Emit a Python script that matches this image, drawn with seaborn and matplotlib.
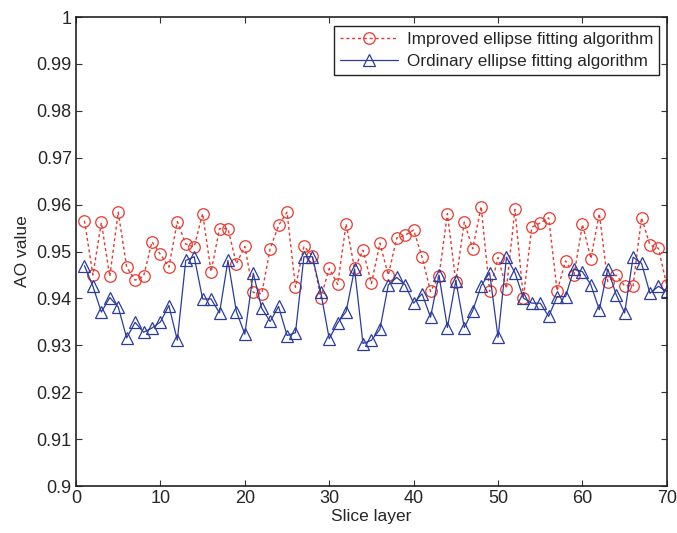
import numpy as np
import pandas as pd
import matplotlib
matplotlib.use("Agg")
import matplotlib.pyplot as plt
import seaborn as sns

slices = list(range(1, 71))
improved = [
    0.9566, 0.9450, 0.9562, 0.9447, 0.9584, 0.9467, 0.9439, 0.9447, 0.9521, 0.9494,
    0.9467, 0.9564, 0.9516, 0.9510, 0.9581, 0.9457, 0.9549, 0.9549, 0.9474, 0.9511,
    0.9413, 0.9410, 0.9506, 0.9556, 0.9584, 0.9424, 0.9511, 0.9491, 0.9401, 0.9464,
    0.9430, 0.9559, 0.9464, 0.9503, 0.9432, 0.9518, 0.9450, 0.9529, 0.9535, 0.9546,
    0.9488, 0.9415, 0.9447, 0.9581, 0.9435, 0.9563, 0.9506, 0.9596, 0.9415, 0.9487,
    0.9421, 0.9590, 0.9401, 0.9552, 0.9561, 0.9572, 0.9416, 0.9480, 0.9450, 0.9558,
    0.9485, 0.9581, 0.9436, 0.9450, 0.9427, 0.9427, 0.9572, 0.9514, 0.9507, 0.9428,
]
ordinary = [
    0.9470, 0.9426, 0.9371, 0.9402, 0.9382, 0.9316, 0.9349, 0.9328, 0.9337, 0.9350,
    0.9385, 0.9311, 0.9481, 0.9489, 0.9399, 0.9399, 0.9369, 0.9481, 0.9372, 0.9324,
    0.9454, 0.9379, 0.9351, 0.9383, 0.9321, 0.9327, 0.9489, 0.9489, 0.9413, 0.9314,
    0.9348, 0.9372, 0.9463, 0.9304, 0.9311, 0.9334, 0.9429, 0.9445, 0.9429, 0.9390,
    0.9410, 0.9360, 0.9450, 0.9338, 0.9438, 0.9338, 0.9374, 0.9427, 0.9455, 0.9317,
    0.9488, 0.9455, 0.9401, 0.9390, 0.9390, 0.9362, 0.9404, 0.9404, 0.9463, 0.9457,
    0.9429, 0.9376, 0.9463, 0.9408, 0.9369, 0.9488, 0.9475, 0.9411, 0.9426, 0.9415,
]
labels = ["Improved ellipse fitting algorithm", "Ordinary ellipse fitting algorithm"]
x_ticks = [0, 10, 20, 30, 40, 50, 60, 70]
y_ticks = [0.90, 0.91, 0.92, 0.93, 0.94, 0.95, 0.96, 0.97, 0.98, 0.99, 1.00]
y_tick_labels = ["0.9", "0.91", "0.92", "0.93", "0.94", "0.95", "0.96", "0.97", "0.98", "0.99", "1"]

sns.set_style("white")
plt.rcParams["font.family"] = ["Liberation Sans", "DejaVu Sans"]

df = pd.DataFrame({"slice": slices, "improved": improved, "ordinary": ordinary})

fig = plt.figure(figsize=(6.77, 5.33), dpi=100)
ax = fig.add_axes([0.1123, 0.088, 0.8727, 0.880])

red = "#E8392F"
blue = "#2A3C9E"
sns.lineplot(data=df, x="slice", y="improved", ax=ax, color=red,
             linewidth=1.0, dashes=False, marker="o", markersize=8.3, markerfacecolor="none",
             markeredgecolor=red, markeredgewidth=0.9, label=labels[0])
ax.lines[-1].set_dashes((2.2, 2.0))
sns.lineplot(data=df, x="slice", y="ordinary", ax=ax, color=blue, linestyle="-",
             linewidth=0.9, marker="^", markersize=8, markerfacecolor="none",
             markeredgecolor=blue, markeredgewidth=0.9, label=labels[1])

ax.set_xlim(0, 70)
ax.set_ylim(0.9, 1.0)
ax.set_xticks(x_ticks)
ax.set_xticklabels([str(t) for t in x_ticks])
ax.set_yticks(y_ticks)
ax.set_yticklabels(y_tick_labels)
ax.set_xlabel("Slice layer", fontsize=12.5, labelpad=1)
ax.set_ylabel("AO value", fontsize=12.5, labelpad=5)
ax.tick_params(axis="both", direction="in", length=4, width=0.8, labelsize=13,
               top=True, right=True, bottom=True, left=True, color="#333333", pad=3)
for s in ax.spines.values():
    s.set_visible(True)
    s.set_color("#222222")
    s.set_linewidth(1.2)

leg = ax.legend(loc="upper right", fontsize=12.3, frameon=True, fancybox=False,
                edgecolor="#222222", borderpad=0.35, handlelength=3.4, handletextpad=0.5,
                labelspacing=0.4, bbox_to_anchor=(0.993, 0.988), borderaxespad=0.2)
leg.get_frame().set_linewidth(1.0)
leg.get_frame().set_alpha(1)
for h in leg.get_lines():
    pass

fig.savefig("out.png", dpi=100)
